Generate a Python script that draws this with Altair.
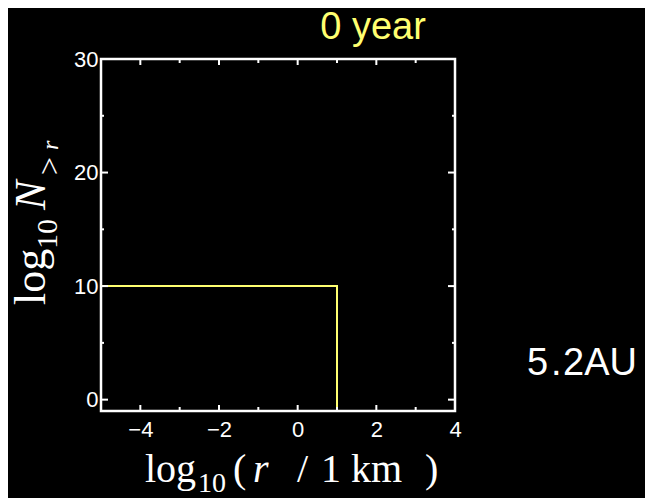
import altair as alt
import pandas as pd

# data
step_x = [-5, 1, 1]
step_y = [10, 10, -1]
x_label_values = [-4, -2, 0, 2, 4]
y_label_values = [0, 10, 20, 30]
x_major = [-4, -2, 0, 2]
x_minor = [-3, -1, 1, 3]
y_major = [0, 10, 20, 30]
y_minor = [5, 15, 25]
title_text = "0 year"
side_text = ["5", ".", "2AU"]

W, H = 354, 352
YEL = "#ffff70"
xs = alt.Scale(domain=[-5, 4], nice=False, zero=False)
ys = alt.Scale(domain=[-1, 30], nice=False, zero=False)

xaxis = alt.Axis(values=x_label_values, title=None, domain=False, ticks=False, tickSize=0,
                 grid=False, labelColor="white", labelFontSize=22, labelFont="Liberation Sans",
                 labelPadding=8, labelFlush=False, labelOverlap=False)
yaxis = alt.Axis(values=y_label_values, title=None, domain=False, ticks=False, tickSize=0,
                 grid=False, labelColor="white", labelFontSize=22, labelFont="Liberation Sans",
                 labelPadding=3, labelFlush=False, labelOverlap=False)

step_df = pd.DataFrame({"x": step_x, "y": step_y, "o": list(range(len(step_x)))})
line = alt.Chart(step_df).mark_line(color=YEL, strokeWidth=2).encode(
    x=alt.X("x:Q", scale=xs, axis=xaxis),
    y=alt.Y("y:Q", scale=ys, axis=yaxis),
    order="o:Q",
)

def xticks(vals, y0, y1):
    return alt.Chart(pd.DataFrame({"v": vals})).mark_rule(color="white", strokeWidth=2).encode(
        x=alt.X("v:Q", scale=xs), y=alt.value(y0), y2=alt.value(y1))

def yticks(vals, x0, x1):
    return alt.Chart(pd.DataFrame({"v": vals})).mark_rule(color="white", strokeWidth=2).encode(
        y=alt.Y("v:Q", scale=ys), x=alt.value(x0), x2=alt.value(x1))

ticks = [
    xticks(x_major, H, H - 6), xticks(x_minor, H, H - 4),
    xticks(x_major, 0, 6), xticks(x_minor, 0, 4),
    yticks(y_major, 0, 7), yticks(y_minor, 0, 3),
    yticks(y_major, W, W - 7), yticks(y_minor, W, W - 3),
]

one = pd.DataFrame({"a": [0]})

def txt(s, x, y, size, color="white", font="Liberation Serif", style="normal", angle=0, align="left", baseline="alphabetic"):
    kw = dict(fontSize=size, color=color, font=font, fontStyle=style, align=align, baseline=baseline)
    if angle:
        kw["angle"] = angle
    return alt.Chart(one).mark_text(**kw).encode(
        x=alt.value(x), y=alt.value(y), text=alt.value(s))

texts = [
    # x title: log10( r / 1 km )
    txt("log", 44, 423, 40),
    txt("10", 97, 433, 28),
    txt("(", 132, 423, 40),
    txt("r", 152, 423, 40, style="italic"),
    txt("/", 196, 423, 40),
    txt("1", 220, 423, 40),
    txt("km", 250, 423, 40),
    txt(")", 324, 423, 40),
    # y title: log10 N>r
    txt("log", -56, 246, 44, angle=270),
    txt("10", -44, 190, 30, angle=270),
    txt("N", -56, 151, 44, style="italic", angle=270),
    txt(">", -41, 116, 32, angle=270),
    txt("r", -43, 91, 24, style="italic", angle=270),
    # title and annotation
    txt(title_text, 272, -20, 38, color=YEL, font="Liberation Sans", align="center"),
    txt(side_text[0], 426, 316, 38, font="Liberation Sans"),
    txt(side_text[1], 450, 316, 38, font="Liberation Sans"),
    txt(side_text[2], 462, 316, 38, font="Liberation Sans"),
]

chart = alt.layer(line, *ticks, *texts).properties(
    width=W, height=H,
    autosize=alt.AutoSizeParams(type="none"),
    padding={"left": 93, "top": 51, "right": 190, "bottom": 87},
).configure(background="black").configure_view(stroke="white", strokeWidth=2.5)

chart.save("out.html", embed_options={"renderer": "svg", "actions": False})
